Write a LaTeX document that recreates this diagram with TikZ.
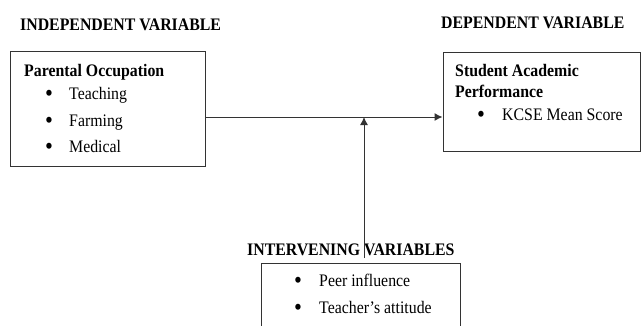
\documentclass[tikz,border=0pt]{standalone}
\usepackage{fontspec}
\setmainfont{Liberation Serif}[FakeStretch=0.9]
\usetikzlibrary{arrows.meta,positioning}

\begin{document}
\begin{tikzpicture}[x=1pt, y=-1pt, every node/.style={font=\fontsize{17.6}{20}\selectfont, inner sep=0pt},
    box/.style={draw=black!80, line width=1pt, minimum width=#1},
    head/.style={font=\fontsize{17.6}{20}\selectfont\bfseries, anchor=base west},
    itm/.style={anchor=base west},
    dot/.style={font=\fontsize{25}{25}\selectfont, anchor=base}]
    \useasboundingbox (0,0) rectangle (641,325);

    % headings
    \node[head] (indhead) at (20,30) {INDEPENDENT VARIABLE};
    \node[head] (dephead) at (441,28) {DEPENDENT VARIABLE};
    \node[head] (inthead) at (247,255) {INTERVENING VARIABLES};

    % boxes
    \node[box=195pt, minimum height=115pt] (occ) at (107.5,108.5) {};
    \node[box=197pt, minimum height=99pt] (perf) at (541.5,101.5) {};
    \node[box=199pt, minimum height=82pt] (interv) at (360.5,304) {};

    % independent variable
    \node[head] (occtitle) at (24,76) {Parental Occupation};
    \node[dot] (d1) at (49,101) {•};
    \node[itm] (teach) at (69,99) {Teaching};
    \node[dot] (d2) at (49,128) {•};
    \node[itm] (farm) at (69,126) {Farming};
    \node[dot] (d3) at (49,154) {•};
    \node[itm] (med) at (69,152) {Medical};

    % dependent variable
    \node[head] (perftitle) at (455,76) {Student Academic};
    \node[head] (perftitleb) at (455,97) {Performance};
    \node[dot] (d4) at (481,122) {•};
    \node[itm] (kcse) at (502,120) {KCSE Mean Score};

    % intervening variables
    \node[dot] (d5) at (298,288) {•};
    \node[itm] (peer) at (319,286) {Peer influence};
    \node[dot] (d6) at (298,315) {•};
    \node[itm] (teacher) at (319,313) {Teacher’s attitude};

    \coordinate (join) at (364,117);
    \coordinate (foot) at (364,258);

    \draw[draw=black!80, line width=1pt, -{Latex[length=8pt,width=8pt]}] (occ.east |- join) -- (perf.west |- join);
    \draw[draw=black!80, line width=1pt, -{Latex[length=8pt,width=8pt]}] (foot) -- (join);
\end{tikzpicture}
\end{document}
